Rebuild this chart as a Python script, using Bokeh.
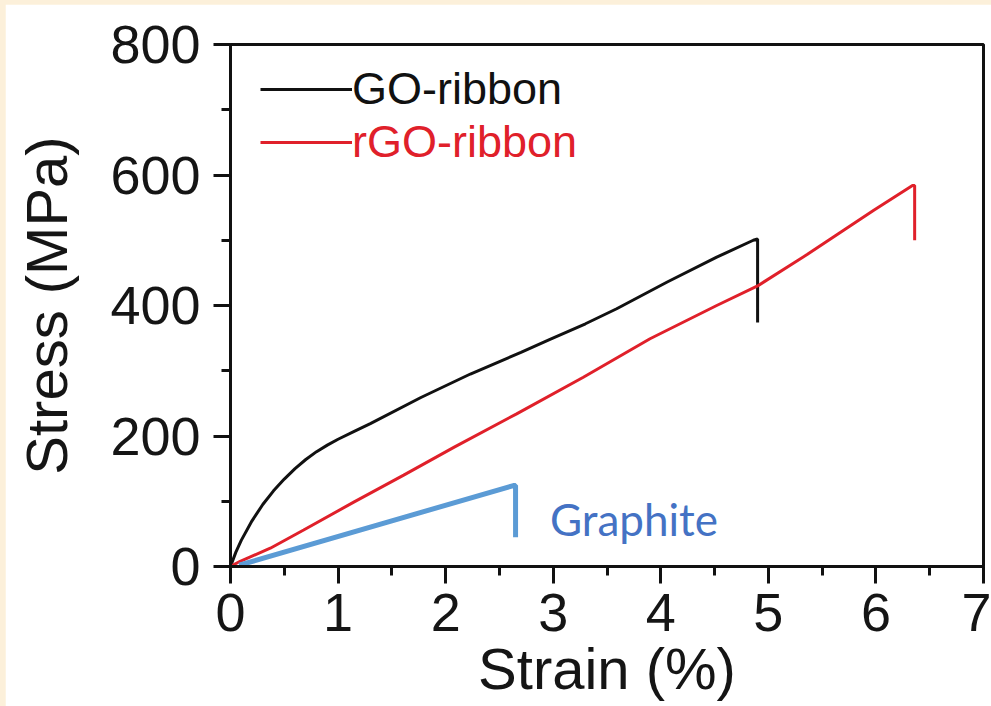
from bokeh.plotting import figure
from bokeh.models import Range1d, SingleIntervalTicker, Legend, LegendItem, Label
from bokeh.layouts import column
from bokeh.embed import file_html
from bokeh.resources import INLINE

# ---- data ----
go_strain = [0, 0.05, 0.10, 0.20, 0.30, 0.40, 0.50, 0.60, 0.70, 0.80, 0.90, 1.00,
             1.15, 1.30, 1.77, 2.23, 2.70, 2.97, 3.30, 3.59, 4.06, 4.52, 4.86, 4.90, 4.90]
go_stress = [0, 22, 40, 70, 95, 116, 134, 150, 164, 176, 186, 195,
             207, 219, 259, 295, 328, 348, 372, 395, 436, 474, 500, 502, 374]

rgo_strain = [0, 0.09, 0.37, 0.68, 1.15, 1.61, 2.08, 2.66, 3.28, 3.90, 4.52, 4.90,
              5.36, 5.98, 6.34, 6.36, 6.36]
rgo_stress = [0, 8, 28, 56, 99, 140, 183, 234, 290, 349, 400, 430,
              478, 546, 584, 584, 500]

graphite_strain = [0.08, 2.63, 2.65, 2.65]
graphite_stress = [2, 124, 124, 45]

series_names = ["GO-ribbon", "rGO-ribbon"]
annotation_text = "Graphite"
x_label = "Strain (%)"
y_label = "Stress (MPa)"

p = figure(width=986, height=702, output_backend="svg", toolbar_location=None,
           x_range=Range1d(0, 7), y_range=Range1d(0, 800),
           min_border_left=225, min_border_right=8, min_border_top=40, min_border_bottom=140)
p.margin = (4, 0, 0, 5)
p.background_fill_color = "white"
p.border_fill_color = "white"
p.outline_line_color = "#111111"
p.outline_line_width = 3
p.grid.visible = False

r_go = p.line(go_strain, go_stress, line_color="#111111", line_width=3)
r_rgo = p.line(rgo_strain, rgo_stress, line_color="#e0202a", line_width=3)
p.line(graphite_strain, graphite_stress, line_color="#5b9bd5", line_width=5)

p.add_layout(Label(x=2.97, y=73, text=annotation_text, text_color="#4472c4",
                   text_font="Lato", text_font_size="44px", text_baseline="alphabetic"))

for ax in (p.xaxis[0], p.yaxis[0]):
    ax.axis_line_width = 3
    ax.axis_line_color = "#111111"
    ax.major_tick_line_width = 3
    ax.minor_tick_line_width = 3
    ax.major_tick_line_color = "#111111"
    ax.minor_tick_line_color = "#111111"
    ax.major_tick_in = 0
    ax.minor_tick_in = 0
    ax.major_tick_out = 17
    ax.minor_tick_out = 9
    ax.major_label_text_font = "Liberation Sans"
    ax.major_label_text_font_size = "54px"
    ax.major_label_text_color = "#151515"
    ax.axis_label_text_font = "Liberation Sans"
    ax.axis_label_text_font_size = "58px"
    ax.axis_label_text_font_style = "normal"
    ax.axis_label_text_color = "#151515"

p.xaxis[0].ticker = SingleIntervalTicker(interval=1, num_minor_ticks=2)
p.yaxis[0].ticker = SingleIntervalTicker(interval=200, num_minor_ticks=2)
p.xaxis[0].axis_label = x_label
p.yaxis[0].axis_label = y_label
p.xaxis[0].major_label_standoff = 10
p.yaxis[0].major_label_standoff = 13
p.xaxis[0].axis_label_standoff = 2
p.yaxis[0].axis_label_standoff = 28

def make_legend(item, color, y):
    lg = Legend(items=[item], location=(30, y), label_text_color=color,
                label_text_font="Liberation Sans", label_text_font_size="45px",
                glyph_width=92, glyph_height=40, label_standoff=0, padding=0, margin=0,
                spacing=0, border_line_alpha=0, background_fill_alpha=0)
    return lg

p.add_layout(make_legend(LegendItem(label=series_names[0], renderers=[r_go]), "#111111", 451))
p.add_layout(make_legend(LegendItem(label=series_names[1], renderers=[r_rgo]), "#e0202a", 398))

page = column(p, styles={"background-color": "#fcf0da"}, width=991, height=706)
open("out.html", "w").write(file_html(page, INLINE))
